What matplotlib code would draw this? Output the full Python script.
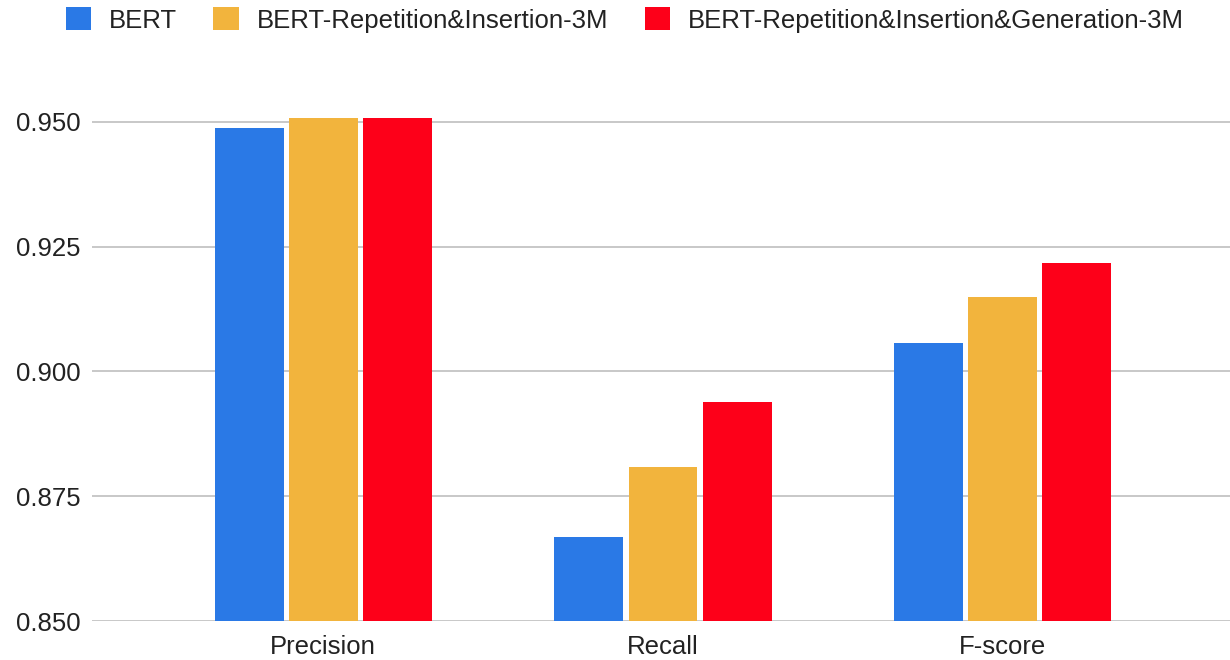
import numpy as np
import matplotlib.pyplot as plt

plt.rcParams['font.family'] = ['Liberation Sans', 'DejaVu Sans']

# scores per metric
metrics = ['Precision', 'Recall', 'F-score']
models = ['BERT', 'BERT-Repetition&Insertion-3M', 'BERT-Repetition&Insertion&Generation-3M']
bert = [0.9488, 0.8668, 0.9057]
bert_ri = [0.9508, 0.8809, 0.9149]
bert_rig = [0.9508, 0.8939, 0.9217]
colors = ['#2a79e6', '#f2b43d', '#fd0019']
yticks = [0.850, 0.875, 0.900, 0.925, 0.950]

fig = plt.figure(figsize=(12.3, 6.6), dpi=100)
ax = fig.add_axes([92 / 1230, 39 / 660, 1142 / 1230, 559 / 660])

x = np.arange(len(metrics))
step = 0.218
width = 0.203
for i, (vals, name) in enumerate(zip([bert, bert_ri, bert_rig], models)):
    ax.bar(x + (i - 1) * step, np.array(vals) - 0.85, width, bottom=0.85,
           color=colors[i], label=name, zorder=3)

ax.set_xlim(-0.68, 2.68)
ax.set_ylim(0.85, 0.962)
ax.set_xticks(x)
ax.set_xticklabels(metrics)
ax.set_yticks(yticks)
ax.set_yticklabels(['%.3f' % t for t in yticks])
ax.tick_params(axis='both', length=0, labelsize=18.5, colors='#222222')
ax.tick_params(axis='x', pad=10)
ax.tick_params(axis='y', pad=8)
ax.grid(axis='y', color='#c8c8c8', linewidth=1.4, zorder=0)
for s in ax.spines.values():
    s.set_visible(False)

fig.legend(loc='upper center', bbox_to_anchor=(625 / 1230, 1.024), ncol=3,
           frameon=False, fontsize=18.5, handlelength=1.0, handleheight=1.0,
           handletextpad=0.7, columnspacing=1.4, labelcolor='#222222')

fig.savefig('out.png', dpi=100)
